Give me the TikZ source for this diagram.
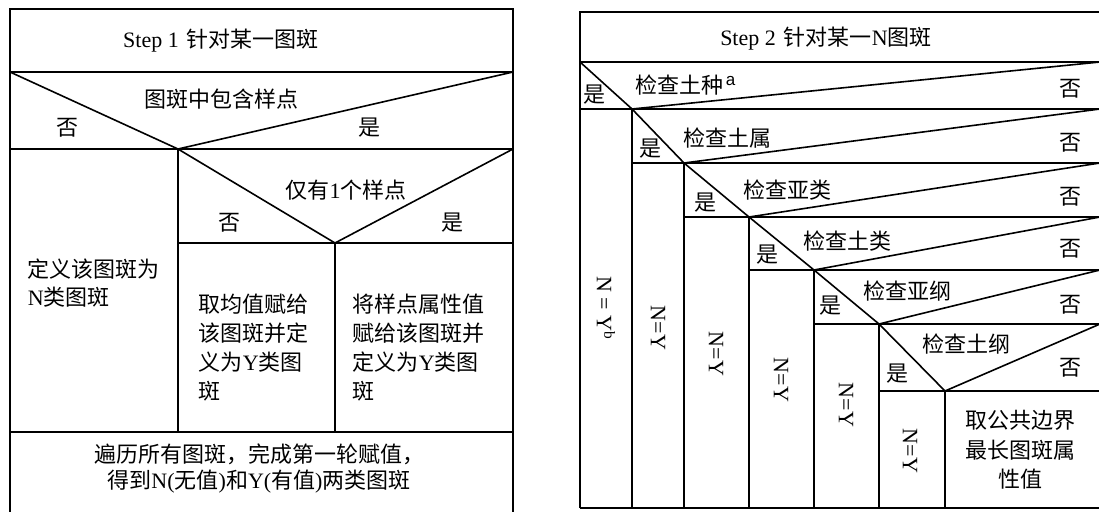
\documentclass[tikz,border=0pt]{standalone}
\usepackage{fontspec}
\setmainfont{Liberation Serif}
\newfontfamily\zhf{Noto Sans CJK SC}
\newfontfamily\sff{Liberation Sans}
\newcommand\zh[1]{{\zhf #1}}
\begin{document}
\begin{tikzpicture}[x=1pt,y=-1pt,line width=1.6pt,
  lab/.style={inner sep=0pt,font=\fontsize{22}{28}\selectfont},
  rot/.style={lab,rotate=-90}]
\useasboundingbox (0,0) rectangle (1099,511);
% ---------- Step 1 panel ----------
\draw (10,512) -- (10,9) -- (513,9) -- (513,512);
\draw (10,72) -- (513,72);
\draw (10,149) -- (513,149);
\draw (10,72) -- (178,149) -- (513,72);
\draw (178,149) -- (335,243) -- (513,149);
\draw (178,243) -- (513,243);
\draw (178,149) -- (178,432);
\draw (335,243) -- (335,432);
\draw (10,432) -- (513,432);
\node[lab] (t1) at (221,41) {Step 1\hspace{8pt}\zh{针对某一图斑}};
\node[lab] (q1) at (221,99) {\zh{图斑中包含样点}};
\node[lab] (n1) at (67,128) {\zh{否}};
\node[lab] (y1) at (369,128) {\zh{是}};
\node[lab] (q2) at (346,190) {\zh{仅有}1\zh{个样点}};
\node[lab] (n2) at (229,223) {\zh{否}};
\node[lab] (y2) at (452,223) {\zh{是}};
\node[lab,anchor=west,align=left] (a1) at (27,283) {\zh{定义该图斑为}\\N\zh{类图斑}};
\node[lab,anchor=west,align=left,font=\fontsize{22}{29}\selectfont] (a2) at (198,348) {\zh{取均值赋给}\\\zh{该图斑并定}\\\zh{义为}Y\zh{类图}\\\zh{斑}};
\node[lab,anchor=west,align=left,font=\fontsize{22}{29}\selectfont] (a3) at (352,348) {\zh{将样点属性值}\\\zh{赋给该图斑并}\\\zh{定义为}Y\zh{类图}\\\zh{斑}};
\node[lab,align=center,font=\fontsize{22}{26}\selectfont] (a4) at (259,468) {\zh{遍历所有图斑，完成第一轮赋值，}\\\zh{得到}N(\zh{无值})\zh{和}Y(\zh{有值})\zh{两类图斑}};
% ---------- Step 2 panel ----------
\draw (580,508) -- (580,12) -- (1100,12);
\draw (580,62) -- (1100,62);
\draw (580,508) -- (1100,508);
\foreach \xa/\ya/\xb/\yb in {580/62/632/109, 632/109/684/163, 684/163/749/217, 749/217/814/270, 814/270/879/324, 879/324/945/391} {
  \draw (\xa,\ya) -- (\xb,\yb) -- (1100,\ya);
  \draw (\xa,\yb) -- (1100,\yb);
  \draw (\xb,\yb) -- (\xb,508);
}
\node[lab] (t2) at (826,39) {Step 2\hspace{8pt}\zh{针对某一}N\zh{图斑}};
\node[lab,anchor=west] (c1) at (635,85) {\zh{检查土种}\hspace{2pt}\raisebox{8pt}{\fontsize{17}{17}\sff a}};
\node[lab,anchor=west] (c2) at (683,138) {\zh{检查土属}};
\node[lab,anchor=west] (c3) at (743,190) {\zh{检查亚类}};
\node[lab,anchor=west] (c4) at (803,241) {\zh{检查土类}};
\node[lab,anchor=west] (c5) at (863,291) {\zh{检查亚纲}};
\node[lab,anchor=west] (c6) at (922,344) {\zh{检查土纲}};
\node[lab] (s1) at (594,95) {\zh{是}};
\node[lab] (s2) at (650,149) {\zh{是}};
\node[lab] (s3) at (705,203) {\zh{是}};
\node[lab] (s4) at (767,255) {\zh{是}};
\node[lab] (s5) at (830,306) {\zh{是}};
\node[lab] (s6) at (897,374) {\zh{是}};
\node[lab] (f1) at (1070,89) {\zh{否}};
\node[lab] (f2) at (1070,143) {\zh{否}};
\node[lab] (f3) at (1070,197) {\zh{否}};
\node[lab] (f4) at (1070,249) {\zh{否}};
\node[lab] (f5) at (1070,305) {\zh{否}};
\node[lab] (f6) at (1070,368) {\zh{否}};
\node[rot] (r1) at (606,308) {N = Y\textsuperscript{b}};
\node[rot] (r2) at (658,328) {N=Y};
\node[rot] (r3) at (716,354) {N=Y};
\node[rot] (r4) at (781,380) {N=Y};
\node[rot] (r5) at (846,405) {N=Y};
\node[rot] (r6) at (910,451) {N=Y};
\node[lab,align=center,font=\fontsize{22}{29.5}\selectfont] (res) at (1020,450) {\zh{取公共边界}\\\zh{最长图斑属}\\\zh{性值}};
\end{tikzpicture}
\end{document}
